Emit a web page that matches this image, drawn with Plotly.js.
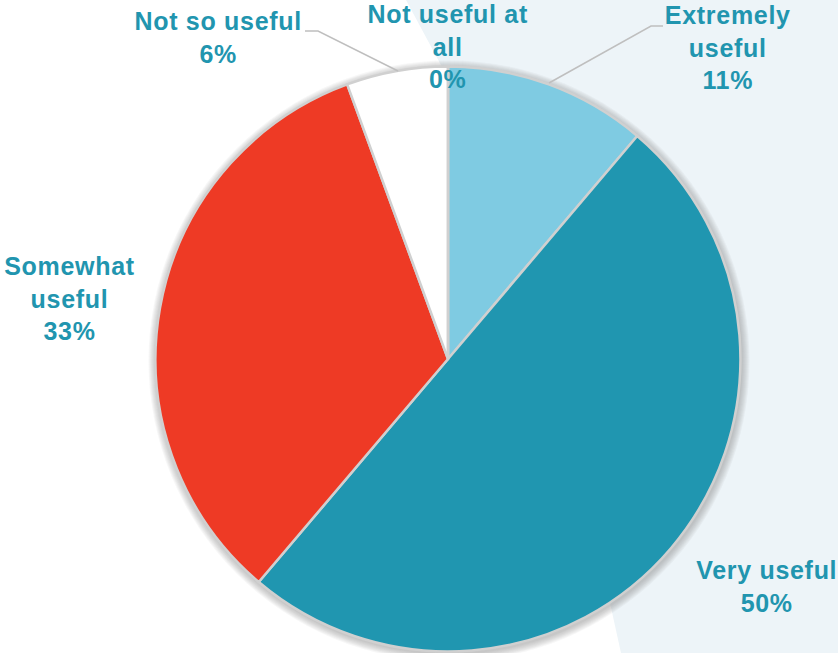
<!DOCTYPE html>
<html>
<head>
<meta charset="utf-8">
<script src="https://cdn.plot.ly/plotly-3.0.1.min.js"></script>
<style>html,body{margin:0;padding:0;background:#fff;}#chart{width:838px;height:653px;}
#chart .annotation-text{letter-spacing:0.7px;}</style>
</head>
<body>
<div id="chart"></div>
<script>
// Data
const categories = ["Extremely useful", "Very useful", "Somewhat useful", "Not so useful", "Not useful at all"];
const values = [11.2, 50, 33.2, 5.6, 0];
const labelLines = ["Extremely<br>useful", "Very useful", "Somewhat<br>useful", "Not so useful", "Not useful at<br>all"];
const sliceColors = ["#7FCBE2", "#2096B0", "#EE3A25", "#FFFFFF", "#FFFFFF"];

const W = 838, H = 653;
const cx = 448, cy = 359, R = 292.5;
const px = x => x / W;
const py = y => 1 - y / H;

const total = values.reduce((a, b) => a + b, 0);
const pctText = values.map(v => Math.round(v / total * 100) + "%");

// label centre positions (pixels)
const labelPos = [[728, 47], [766, 586], [70, 299], [218, 38], [448, 46]];

const annotations = categories.map((c, i) => ({
  xref: "paper", yref: "paper",
  x: px(labelPos[i][0]), y: py(labelPos[i][1]),
  xanchor: "center", yanchor: "middle", align: "center",
  showarrow: false,
  text: "<b>" + labelLines[i] + "<br>" + pctText[i] + "</b>",
  font: {family: "Liberation Sans, Arial, sans-serif", size: 25, color: "#2195AF"}
}));

const shapes = [];
// light background panel
shapes.push({
  type: "path", xref: "paper", yref: "paper", layer: "below",
  path: `M ${px(406)} ${py(0)} L ${px(442)} ${py(67)} L ${px(610)} ${py(603)} L ${px(621)} ${py(653)} L 1 ${py(653)} L 1 ${py(0)} Z`,
  fillcolor: "#EDF4F8", line: {width: 0}
});
// soft shadow rings
for (let k = 8; k >= 1; k--) {
  const r = R + k;
  const ox = 1, oy = 2;
  shapes.push({
    type: "circle", xref: "paper", yref: "paper", layer: "below",
    x0: px(cx + ox - r), x1: px(cx + ox + r),
    y0: py(cy + oy + r), y1: py(cy + oy - r),
    fillcolor: "rgba(120,120,120,0.06)", line: {width: 0}
  });
}
// leader lines
const leaderColor = "#BFBFBF";
shapes.push({type: "path", xref: "paper", yref: "paper",
  path: `M ${px(305)} ${py(31)} L ${px(318)} ${py(31)} L ${px(398)} ${py(71)}`,
  line: {color: leaderColor, width: 1.5}});
shapes.push({type: "path", xref: "paper", yref: "paper",
  path: `M ${px(663)} ${py(26)} L ${px(651)} ${py(26)} L ${px(549)} ${py(83)}`,
  line: {color: leaderColor, width: 1.5}});

const trace = {
  type: "pie",
  labels: categories,
  values: values,
  sort: false,
  direction: "clockwise",
  rotation: 0,
  textinfo: "none",
  hoverinfo: "label+percent",
  marker: {colors: sliceColors, line: {color: "#D0D0D0", width: 2.5}},
  domain: {x: [px(cx - R), px(cx + R)], y: [py(cy + R), py(cy - R)]},
  showlegend: false
};

const layout = {
  width: W, height: H,
  margin: {l: 0, r: 0, t: 0, b: 0},
  paper_bgcolor: "#FFFFFF",
  showlegend: false,
  shapes: shapes,
  annotations: annotations
};

Plotly.newPlot("chart", [trace], layout, {displayModeBar: false, staticPlot: true});
</script>
</body>
</html>
